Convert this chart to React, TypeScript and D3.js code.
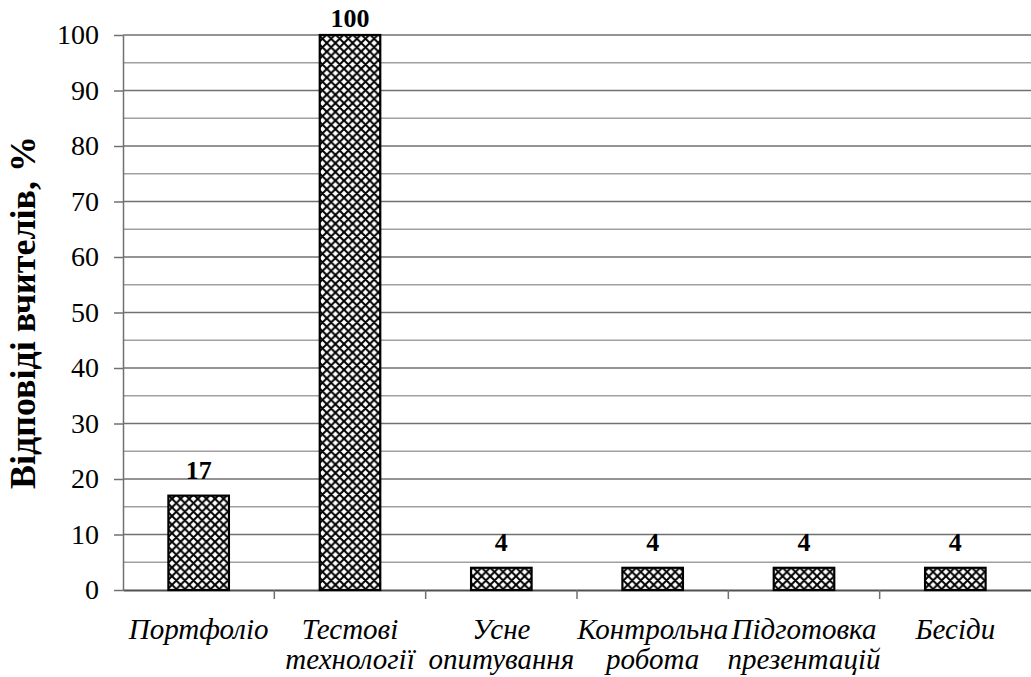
import React, { useRef, useEffect } from 'react';
import * as d3 from 'd3';

// categories (line breaks as in the original figure)
const categories: string[][] = [
    ['Портфоліо'],
    ['Тестові', 'технології'],
    ['Усне', 'опитування'],
    ['Контрольна', 'робота'],
    ['Підготовка', 'презентацій'],
    ['Бесіди'],
];
const values: number[] = [17, 100, 4, 4, 4, 4];
const yTicks: number[] = [0, 10, 20, 30, 40, 50, 60, 70, 80, 90, 100];
const yMinorTicks: number[] = [5, 15, 25, 35, 45, 55, 65, 75, 85, 95];
const yTitle = 'Відповіді вчителів, %';

function App() {
    const svgRef = useRef<SVGSVGElement | null>(null);

    useEffect(() => {
        if (!svgRef.current) return;
        d3.select(svgRef.current).selectAll('*').remove();

        const width = 1031;
        const height = 677;
        const margin = { top: 35, right: 0, bottom: 87, left: 123 };
        const serif = 'Liberation Serif';

        const keys = categories.map(c => c.join(' '));

        const x = d3.scaleBand()
            .domain(keys)
            .range([margin.left, width - margin.right])
            .paddingInner(0.6)
            .paddingOuter(0.3);

        const bands = d3.scaleBand()
            .domain(keys)
            .range([margin.left, width - margin.right]);

        const y = d3.scaleLinear()
            .domain([0, 100])
            .range([height - margin.bottom, margin.top]);

        const svg = d3.select(svgRef.current)
            .attr('width', width)
            .attr('height', height);

        svg.append('rect').attr('width', width).attr('height', height).attr('fill', '#fff');

        // cross-hatch pattern
        const pat = svg.append('defs').append('pattern')
            .attr('id', 'hatch')
            .attr('patternUnits', 'userSpaceOnUse')
            .attr('width', 8.6)
            .attr('height', 8.6);
        pat.append('rect').attr('width', 8.6).attr('height', 8.6).attr('fill', '#fff');
        pat.append('path')
            .attr('d', 'M-1,-1 L9.6,9.6 M-1,9.6 L9.6,-1 M-5.3,3.3 L3.3,-5.3 M5.3,13.9 L13.9,5.3 M-5.3,5.3 L3.3,13.9 M5.3,-3.3 L13.9,5.3')
            .attr('stroke', '#000')
            .attr('stroke-width', 2);

        // minor gridlines
        svg.append('g')
            .selectAll('line')
            .data(yMinorTicks)
            .join('line')
            .attr('x1', margin.left)
            .attr('x2', width)
            .attr('y1', d => y(d))
            .attr('y2', d => y(d))
            .attr('stroke', '#a0a0a0')
            .attr('stroke-width', 1.3);

        // major gridlines
        svg.append('g')
            .selectAll('line')
            .data(yTicks.filter(d => d > 0))
            .join('line')
            .attr('x1', margin.left)
            .attr('x2', width)
            .attr('y1', d => y(d))
            .attr('y2', d => y(d))
            .attr('stroke', '#707070')
            .attr('stroke-width', 1.6);

        // y axis
        svg.append('g')
            .attr('transform', `translate(${margin.left},0)`)
            .call(d3.axisLeft(y).tickValues(yTicks).tickSize(9).tickPadding(15).tickSizeOuter(0))
            .call(g => g.select('.domain').attr('stroke', '#707070').attr('stroke-width', 1.5))
            .call(g => g.selectAll('.tick line').attr('stroke', '#707070').attr('stroke-width', 1.5))
            .call(g => g.selectAll('.tick text')
                .attr('fill', '#000')
                .attr('font-family', serif)
                .attr('font-size', 28));

        // x axis
        svg.append('g')
            .attr('transform', `translate(0,${y(0)})`)
            .call(d3.axisBottom(bands).tickSize(0).tickSizeOuter(0).tickFormat(() => ''))
            .call(g => g.select('.domain').attr('stroke', '#505050').attr('stroke-width', 1.8));

        svg.append('g')
            .selectAll('line')
            .data(keys.slice(1))
            .join('line')
            .attr('x1', d => bands(d)!)
            .attr('x2', d => bands(d)!)
            .attr('y1', y(0))
            .attr('y2', y(0) + 9)
            .attr('stroke', '#707070')
            .attr('stroke-width', 1.5);

        // bars
        svg.append('g')
            .selectAll('rect')
            .data(values)
            .join('rect')
            .attr('x', (_, i) => x(keys[i])!)
            .attr('y', d => y(d))
            .attr('width', x.bandwidth())
            .attr('height', d => y(0) - y(d))
            .attr('fill', 'url(#hatch)')
            .attr('stroke', '#000')
            .attr('stroke-width', 2.2);

        // value labels (top one is pushed down to stay inside the picture)
        svg.append('g')
            .selectAll('text')
            .data(values)
            .join('text')
            .attr('x', (_, i) => x(keys[i])! + x.bandwidth() / 2)
            .attr('y', d => Math.max(y(d) - 17, 27))
            .attr('text-anchor', 'middle')
            .attr('font-family', serif)
            .attr('font-weight', 'bold')
            .attr('font-size', 26)
            .text(d => d);

        // category labels
        const cat = svg.append('g')
            .selectAll('text')
            .data(categories)
            .join('text')
            .attr('x', (_, i) => bands(keys[i])! + bands.bandwidth() / 2)
            .attr('y', 639)
            .attr('text-anchor', 'middle')
            .attr('font-family', serif)
            .attr('font-style', 'italic')
            .attr('font-size', 29);
        cat.selectAll('tspan')
            .data(d => d)
            .join('tspan')
            .attr('x', function () { return (this.parentNode as SVGTextElement).getAttribute('x'); })
            .attr('dy', (_, j) => (j === 0 ? 0 : 30))
            .text(d => d);

        // y title
        svg.append('text')
            .attr('transform', `translate(35,${(y(0) + y(100)) / 2}) rotate(-90)`)
            .attr('text-anchor', 'middle')
            .attr('font-family', serif)
            .attr('font-weight', 'bold')
            .attr('font-size', 36)
            .text(yTitle);
    }, []);

    return (
        <div>
            <svg ref={svgRef} style={{ position: 'absolute', left: 0, top: 0, display: 'block' }}></svg>
        </div>
    );
}

export default App;
